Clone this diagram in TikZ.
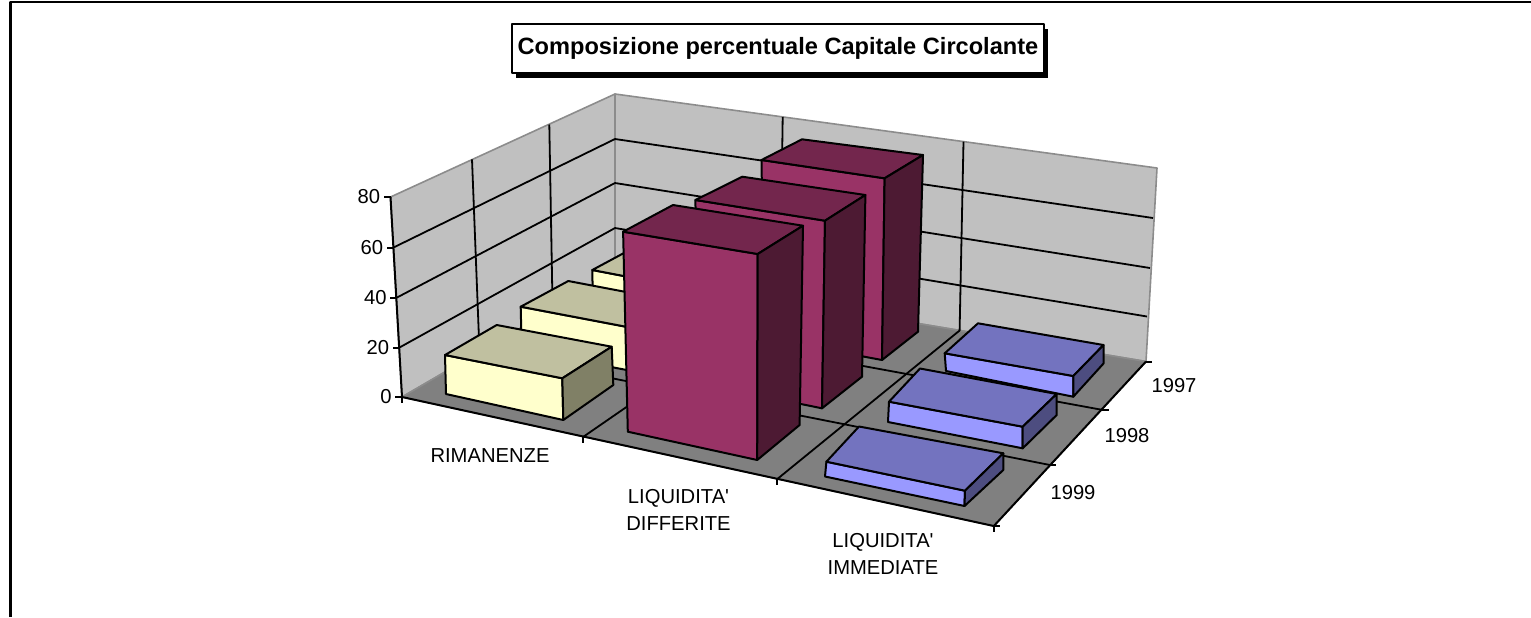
\documentclass[tikz,border=0pt]{standalone}
\usepackage{fontspec}
\setmainfont{Liberation Sans}
\usetikzlibrary{shadows}
\definecolor{wallgray}{HTML}{C0C0C0}
\definecolor{floorgray}{HTML}{808080}
\definecolor{edgegray}{HTML}{8C8C8C}
\definecolor{yfront}{HTML}{FFFFCC}
\definecolor{ytop}{HTML}{C0C0A0}
\definecolor{yside}{HTML}{808066}
\definecolor{pfront}{HTML}{993366}
\definecolor{ptop}{HTML}{73264D}
\definecolor{pside}{HTML}{4D1A33}
\definecolor{bfront}{HTML}{9999FF}
\definecolor{btop}{HTML}{7373BF}
\definecolor{bside}{HTML}{4D4D80}
\begin{document}
\begin{tikzpicture}[x=0.5pt,y=-0.5pt,line join=round]
        \tikzstyle{wall}=[fill=wallgray,draw=edgegray,line width=0.8pt]
        \tikzstyle{grid}=[draw=black,line width=0.9pt]
        \tikzstyle{axis}=[draw=black,line width=1pt]
        \tikzstyle{face}=[draw=black,line width=1pt]
        \tikzstyle{lbl}=[font=\fontsize{10.1}{13.3}\selectfont,inner sep=0pt,align=center]
        \useasboundingbox (0,0) rectangle (1531,617);
        \draw[line width=1.2pt] (10.5,617) -- (10.5,2) -- (1531,2);
       % walls and floor
       \begin{scope}
         \path[wall] (390.5,197) -- (615,94) -- (615,273) -- (402,397) -- cycle;
         \path[wall] (615,94) -- (1157,168) -- (1146,361.5) -- (615,273) -- cycle;
         \path[fill=floorgray,draw=edgegray,line width=0.8pt] (402,397) -- (615,273) -- (1146,361.5) -- (993.8,526) -- cycle;
         \draw[grid] (399.5,347.5) -- (615,228) -- (1147,316.5);
         \draw[grid] (397,297.5) -- (615,183) -- (1150,268);
         \draw[grid] (393.5,247.5) -- (615,139) -- (1153,218);
         \draw[grid] (472,159.3) -- (479.5,352) -- (1050,465);
         \draw[grid] (549.3,124.5) -- (552.6,309) -- (1103,410);
         \draw[grid] (782.7,117) -- (780,301) -- (583,437);
         \draw[grid] (963.5,141.7) -- (959.6,330.5) -- (777.3,479);
         \draw[axis] (390.5,197) -- (402,397) -- (993.8,526) -- (1146,361.5);
       \end{scope}
       % ticks and axis labels
       \foreach \v/\x/\y in {0/402/397, 20/399.5/347.5, 40/397/297.5, 60/393.5/247.5, 80/390.5/197} {
         \draw[axis] (\x,\y) -- ++(-7,0);
         \node[lbl,anchor=east] (z\v) at (\x-10,\y) {\v};
       }
       \foreach \x/\y in {402/397, 583/436.5, 777.3/479, 993.8/526}
         \draw[axis] (\x,\y) -- ++(0,6);
       \foreach \x/\y in {993.8/526, 1050/465, 1103/410, 1146/361.5}
         \draw[axis] (\x,\y) -- ++(6,0);
       % 1997
       \filldraw[face,fill=yfront] (592.3,270) -- (702,291) -- (703,331) -- (593,310) -- cycle;
       \filldraw[face,fill=ytop] (592.3,270) -- (702,291) -- (747,267) -- (637,246) -- cycle;
       \filldraw[face,fill=pfront] (761.5,160) -- (884.6,178.3) -- (882,360) -- (764,338) -- cycle;
       \filldraw[face,fill=ptop] (761.5,160) -- (884.6,178.3) -- (923,155) -- (802,139.3) -- cycle;
       \filldraw[face,fill=pside] (884.6,178.3) -- (923,155) -- (918,331.7) -- (882,360) -- cycle;
       \filldraw[face,fill=bfront] (944.7,353.3) -- (1073.3,376) -- (1073.3,396.7) -- (946,371) -- cycle;
       \filldraw[face,fill=btop] (944.7,353.3) -- (1073.3,376) -- (1103.5,345) -- (978,323.3) -- cycle;
       \filldraw[face,fill=bside] (1073.3,376) -- (1103.5,345) -- (1103.5,363.5) -- (1073.3,396.7) -- cycle;
       % 1998
       \filldraw[face,fill=yfront] (520.7,306.7) -- (633.7,328.2) -- (634.7,371.5) -- (521.7,350) -- cycle;
       \filldraw[face,fill=ytop] (520.7,306.7) -- (633.7,328.2) -- (681.3,302.5) -- (568.3,281) -- cycle;
       \filldraw[face,fill=pfront] (695.4,200) -- (825,220.7) -- (822,408.3) -- (698,383) -- cycle;
       \filldraw[face,fill=ptop] (695.4,200) -- (825,220.7) -- (865.4,195) -- (742.3,176.7) -- cycle;
       \filldraw[face,fill=pside] (825,220.7) -- (865.4,195) -- (862,376.7) -- (822,408.3) -- cycle;
       \filldraw[face,fill=bfront] (889,401.7) -- (1022.7,426.7) -- (1022.7,448.3) -- (888,422) -- cycle;
       \filldraw[face,fill=btop] (889,401.7) -- (1022.7,426.7) -- (1056.7,394) -- (920,368.5) -- cycle;
       \filldraw[face,fill=bside] (1022.7,426.7) -- (1056.7,394) -- (1056.7,415) -- (1022.7,448.3) -- cycle;
       % 1999
       \filldraw[face,fill=yfront] (445,355) -- (562.3,378.3) -- (563.3,420) -- (446,394) -- cycle;
       \filldraw[face,fill=ytop] (445,355) -- (562.3,378.3) -- (611.7,346.7) -- (496.7,325) -- cycle;
       \filldraw[face,fill=yside] (562.3,378.3) -- (611.7,346.7) -- (613.3,385) -- (563.3,420) -- cycle;
       \filldraw[face,fill=pfront] (623.1,231.7) -- (757.7,254) -- (757.2,460) -- (627.8,431.7) -- cycle;
       \filldraw[face,fill=ptop] (623.1,231.7) -- (757.7,254) -- (803,225.7) -- (673,205) -- cycle;
       \filldraw[face,fill=pside] (757.7,254) -- (803,225.7) -- (799.6,425) -- (757.2,460) -- cycle;
       \filldraw[face,fill=bfront] (826.4,461.7) -- (965,490.7) -- (964.5,506) -- (825,476.5) -- cycle;
       \filldraw[face,fill=btop] (826.4,461.7) -- (965,490.7) -- (1003.3,453.3) -- (859,426.5) -- cycle;
       \filldraw[face,fill=bside] (965,490.7) -- (1003.3,453.3) -- (1003.3,470) -- (964.5,506) -- cycle;
       % category and series labels
       \node[lbl] (rim) at (490,456) {RIMANENZE};
       \node[lbl] (ldiff) at (678.5,510) {LIQUIDITA\textquotesingle\\DIFFERITE};
       \node[lbl] (limm) at (883,554) {LIQUIDITA\textquotesingle\\IMMEDIATE};
       \node[lbl] (y97) at (1174,386) {1997};
       \node[lbl] (y98) at (1127,436) {1998};
       \node[lbl] (y99) at (1073,492.5) {1999};
       \node[draw,fill=white,line width=1pt,minimum width=266pt,minimum height=24.3pt,inner sep=0pt,
             font=\fontsize{11.8}{14}\selectfont\bfseries,
             drop shadow={shadow xshift=2.2pt,shadow yshift=-2.7pt,fill=black,opacity=1}]
             (title) at (778,48.3) {Composizione percentuale Capitale Circolante};
      \end{tikzpicture}
\end{document}
